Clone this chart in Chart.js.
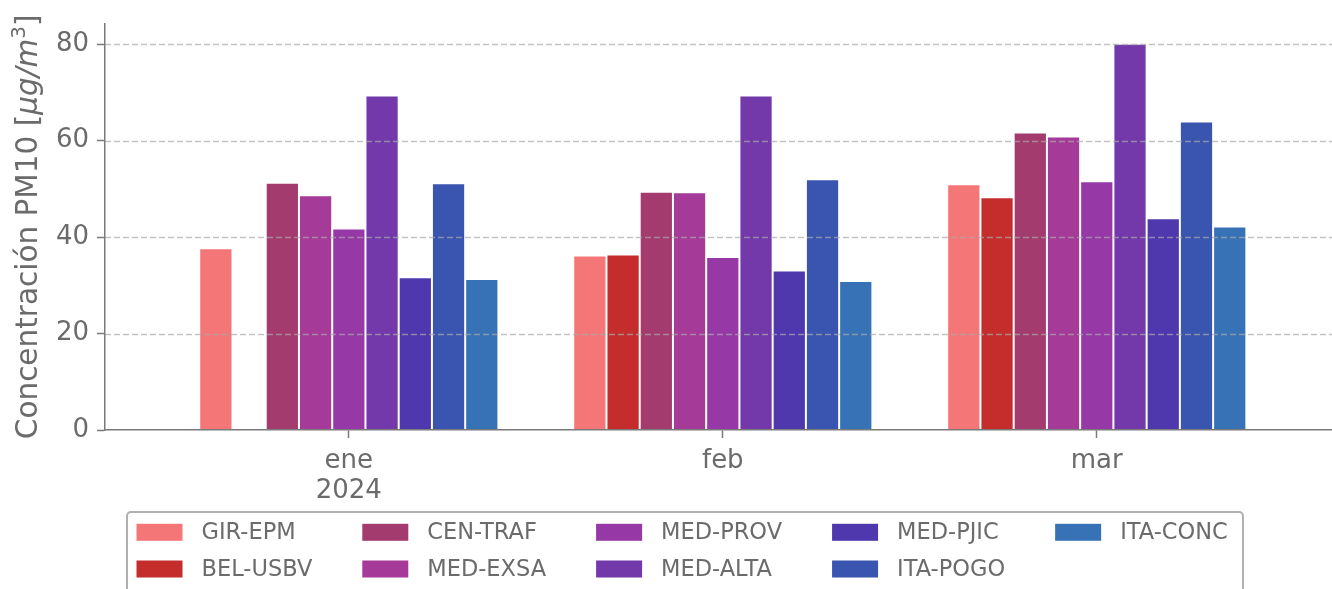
<!DOCTYPE html>
<html>
<head>
<meta charset="utf-8">
<script src="https://cdn.jsdelivr.net/npm/chart.js@4/dist/chart.umd.min.js"></script>
<style>
  body { margin: 0; background: #fff; }
  #wrap { width: 1332px; height: 589px; }
</style>
</head>
<body>
<div id="wrap"><canvas id="pm10" width="1332" height="589"></canvas></div>
<script>
// data
const months = ["ene", "feb", "mar"];
const monthLabels = [["ene", "2024"], ["feb"], ["mar"]];
const stations = ["GIR-EPM", "BEL-USBV", "CEN-TRAF", "MED-EXSA", "MED-PROV", "MED-ALTA", "MED-PJIC", "ITA-POGO", "ITA-CONC"];
const girEpm = [37.7, 36.2, 51.0];
const belUsbv = [null, 36.4, 48.3];
const cenTraf = [51.3, 49.4, 61.7];
const medExsa = [48.7, 49.3, 60.9];
const medProv = [41.8, 35.9, 51.6];
const medAlta = [69.4, 69.4, 80.1];
const medPjic = [31.7, 33.1, 43.9];
const itaPogo = [51.2, 52.0, 64.0];
const itaConc = [31.3, 30.9, 42.2];
const yTicks = [0, 20, 40, 60, 80];

const seriesVals = [girEpm, belUsbv, cenTraf, medExsa, medProv, medAlta, medPjic, itaPogo, itaConc];
const colors = ["#f47676", "#c52d2d", "#a33b6f", "#a63a98", "#9639a7", "#7339aa", "#4f38ad", "#3a55b0", "#3872b6"];

const FONT = "'DejaVu Sans', sans-serif";
const GREY = "#6b6b6b";
const SPINE = "#7a7a7a";

const datasets = stations.map((name, i) => ({
  label: name,
  data: seriesVals[i].map((v, m) => ({ x: m, y: v })),
  backgroundColor: colors[i],
  borderColor: "rgba(255,255,255,0.45)",
  borderWidth: 1,
  categoryPercentage: 0.8,
  barPercentage: 1.0,
}));

// dashed grid drawn over the bars, like the original
const gridOverPlugin = {
  id: "gridOver",
  afterDatasetsDraw(chart) {
    const { ctx, chartArea: ca, scales } = chart;
    ctx.save();
    ctx.strokeStyle = "rgba(170,170,170,0.7)";
    ctx.lineWidth = 1.5;
    ctx.setLineDash([6, 3]);
    yTicks.forEach((v) => {
      if (v === 0) return;
      const y = Math.round(scales.y.getPixelForValue(v)) + 0.5;
      ctx.beginPath();
      ctx.moveTo(ca.left, y);
      ctx.lineTo(ca.right, y);
      ctx.stroke();
    });
    ctx.restore();
  },
};

// y title with italic units and superscript
const yTitlePlugin = {
  id: "yTitle",
  afterDraw(chart) {
    const ctx = chart.ctx;
    const parts = [
      { t: "Concentración PM10 [", f: "29.5px " + FONT, dy: 0 },
      { t: "μg/m", f: "italic 29.5px " + FONT, dy: 0 },
      { t: "3", f: "20px " + FONT, dy: -12 },
      { t: "]", f: "29.5px " + FONT, dy: 0 },
    ];
    ctx.save();
    let total = 0;
    parts.forEach((p) => { ctx.font = p.f; p.w = ctx.measureText(p.t).width; total += p.w; });
    const ca = chart.chartArea;
    ctx.translate(37, (ca.top + ca.bottom) / 2);
    ctx.rotate(-Math.PI / 2);
    ctx.fillStyle = GREY;
    ctx.textBaseline = "alphabetic";
    let x = -total / 2;
    parts.forEach((p) => {
      ctx.font = p.f;
      ctx.fillText(p.t, x, p.dy);
      x += p.w;
    });
    ctx.restore();
  },
};

// matplotlib style legend: 5 columns, filled column by column
const legendPlugin = {
  id: "mplLegend",
  afterDraw(chart) {
    const ctx = chart.ctx;
    const nrows = 2;
    const ncols = Math.ceil(stations.length / nrows);
    const rowY = [532.3, 569];
    const sw = 46, sh = 17, gap = 19, colSpace = 50;
    ctx.save();
    ctx.font = "22.5px " + FONT;
    // box
    const boxL = 127, boxT = 512, boxR = 1243, boxB = 600;
    ctx.strokeStyle = "#b0b0b0";
    ctx.lineWidth = 2;
    ctx.beginPath();
    ctx.roundRect(boxL, boxT, boxR - boxL, boxB - boxT, 4);
    ctx.stroke();
    let x = 136.5;
    for (let c = 0; c < ncols; c++) {
      let maxW = 0;
      for (let r = 0; r < nrows; r++) {
        const i = c * nrows + r;
        if (i >= stations.length) break;
        ctx.fillStyle = colors[i];
        ctx.fillRect(x, rowY[r] - sh / 2, sw, sh);
        ctx.fillStyle = GREY;
        ctx.textBaseline = "middle";
        ctx.fillText(stations[i], x + sw + gap, rowY[r] + 1);
        maxW = Math.max(maxW, ctx.measureText(stations[i]).width);
      }
      x += sw + gap + maxW + colSpace;
    }
    ctx.restore();
  },
};

new Chart(document.getElementById("pm10").getContext("2d"), {
  type: "bar",
  data: { datasets: datasets },
  plugins: [gridOverPlugin, yTitlePlugin, legendPlugin],
  options: {
    responsive: false,
    animation: false,
    layout: { padding: { top: 22, right: 0, bottom: 79, left: 0 } },
    plugins: {
      legend: { display: false },
      tooltip: { enabled: false },
    },
    scales: {
      x: {
        type: "linear",
        offset: false,
        min: -0.652,
        max: 2.629,
        afterBuildTicks: (scale) => { scale.ticks = months.map((_, i) => ({ value: i })); },
        afterFit: (scale) => { scale.height = 80; },
        ticks: {
          callback: (v) => monthLabels[v],
          color: GREY,
          font: { family: FONT, size: 26, lineHeight: 1.15 },
          padding: 8,
          maxRotation: 0,
          autoSkip: false,
        },
        grid: {
          offset: false,
          drawOnChartArea: false,
          drawTicks: true,
          tickLength: 8,
          tickColor: SPINE,
          tickWidth: 1.5,
        },
        border: { color: SPINE, width: 1.5, z: 2 },
      },
      y: {
        min: 0,
        max: 84.3,
        afterBuildTicks: (scale) => { scale.ticks = yTicks.map((v) => ({ value: v })); },
        afterFit: (scale) => { scale.width = 105; },
        ticks: {
          color: GREY,
          font: { family: FONT, size: 26 },
          padding: 8,
        },
        grid: {
          drawOnChartArea: false,
          tickLength: 8,
          tickColor: SPINE,
          tickWidth: 1.5,
          tickBorderDash: [],
        },
        border: { color: SPINE, width: 1.5, z: 2 },
      },
    },
  },
});
</script>
</body>
</html>
